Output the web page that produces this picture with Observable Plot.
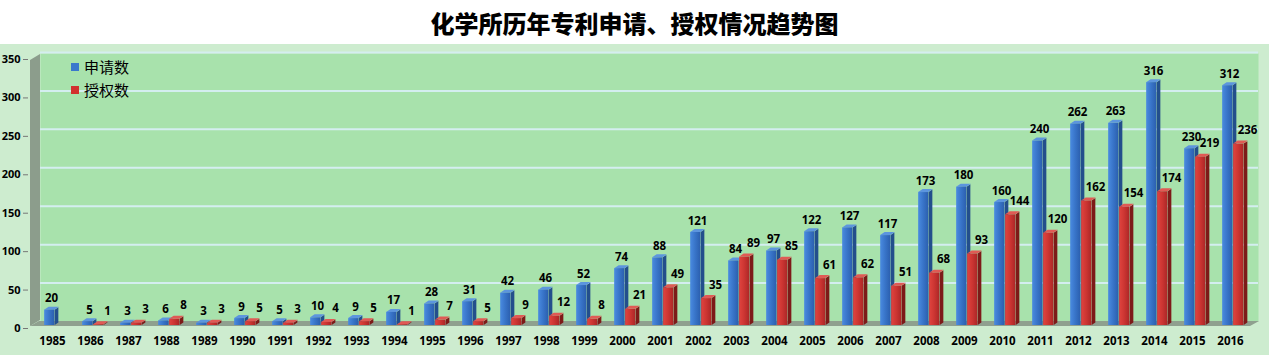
<!DOCTYPE html>
<html>
<head>
<meta charset="utf-8">
<script src="https://cdn.jsdelivr.net/npm/d3@7"></script>
<script src="https://cdn.jsdelivr.net/npm/@observablehq/plot@0.6"></script>
<style>
  html, body { margin: 0; padding: 0; background: #ffffff; }
  #wrap { width: 1269px; height: 355px; position: relative; overflow: hidden; }
  #title { height: 44px; line-height: 46px; text-align: center; font-family: "Noto Sans CJK SC", sans-serif; font-weight: 900; font-size: 24px; color: #000; background: #ffffff; }
  #chart { position: relative; height: 311px; background: #cdeccf; }
  #legend { position: absolute; left: 71px; top: 11px; font-family: "Noto Sans CJK SC", sans-serif; font-size: 15px; color: #000; line-height: 23px; }
  #legend .sw { display: inline-block; width: 8px; height: 8px; margin-right: 5px; vertical-align: 2px; }
</style>
</head>
<body>
<div id="wrap">
  <div id="title">化学所历年专利申请、授权情况趋势图</div>
  <div id="chart"></div>
</div>
<script>
// ---- data ----
const years = [1985,1986,1987,1988,1989,1990,1991,1992,1993,1994,1995,1996,1997,1998,1999,2000,2001,2002,2003,2004,2005,2006,2007,2008,2009,2010,2011,2012,2013,2014,2015,2016];
const applications = [20,5,3,6,3,9,5,10,9,17,28,31,42,46,52,74,88,121,84,97,122,127,117,173,180,160,240,262,263,316,230,312];
const grants = [null,1,3,8,3,5,3,4,5,1,7,5,9,12,8,21,49,35,89,85,61,62,51,68,93,144,120,162,154,174,219,236];
const yTicks = [0,50,100,150,200,250,300,350];
const seriesNames = ["申请数","授权数"];

const appData = years.map((y, i) => ({year: String(y), value: applications[i]})).filter(d => d.value != null);
const grantData = years.map((y, i) => ({year: String(y), value: grants[i]})).filter(d => d.value != null);

function styled(tf, origin) {
  return (index, scales, values, dims, ctx, next) => {
    const g = next(index, scales, values, dims, ctx);
    const els = g.tagName && g.tagName.toLowerCase() === "rect" ? [g] : g.querySelectorAll("rect");
    for (const el of els) {
      el.style.transformBox = "fill-box";
      el.style.transformOrigin = origin || "left bottom";
      el.style.transform = tf;
    }
    return g;
  };
}

const W = 1269, H = 311, ML = 28, MR = 11, MT = 8, MB = 34;
const band = (1254 - 28) / years.length;
const half = band / 2;

function bar3d(data, colors, off) {
  const [fl, fr] = off;
  const depth = 4;
  return [
    Plot.barY(data, {x: "year", y: "value", fill: colors.side, dy: 4,
      insetLeft: half + fr, insetRight: half - fr - depth,
      render: styled("skewY(-34deg)", "left bottom")}),
    Plot.barY(data, {x: "year", y1: "value", y2: "value", fill: colors.top, dy: 4,
      insetLeft: half + fl, insetRight: half - fr, insetTop: -3,
      render: styled("skewX(-56deg)", "left bottom")}),
    Plot.barY(data, {x: "year", y: "value", fill: colors.front, dy: 4,
      insetLeft: half + fl, insetRight: half - fr})
  ];
}

const chart = Plot.plot({
  width: W, height: H,
  marginLeft: ML, marginRight: MR, marginTop: MT, marginBottom: MB,
  style: {background: "transparent", fontFamily: "'Open Sans', sans-serif", fontWeight: "bold", fontSize: "11px", color: "#000"},
  x: {type: "band", domain: years.map(String), range: [28, 1254], padding: 0, label: null},
  y: {domain: [0, 350], range: [H - MB, MT], label: null},
  marks: [
    Plot.frame({fill: "#a8e2ac", insetLeft: 12, insetTop: 1}),
    Plot.ruleY(yTicks.slice(1), {y: d => d, stroke: "#d4eef0", strokeWidth: 2, insetLeft: 12}),
    Plot.frame({fill: "#8c9d8c", insetLeft: 2, insetRight: (W - MR - ML) - 12, insetTop: 8, insetBottom: -5,
      render: styled("skewY(-31deg)", "left top")}),
    Plot.frame({fill: "#8fa08f", insetLeft: 2, insetRight: 8, insetTop: (H - MB - MT), insetBottom: -5,
      render: styled("skewX(-61deg)", "left bottom")}),
    ...bar3d(appData, {front: "url(#gBlue)", side: "#234f8c", top: "#5c95de"}, [-8, 2.5]),
    ...bar3d(grantData, {front: "url(#gRed)", side: "#7d1a18", top: "#e05a55"}, [3, 13.5]),
    Plot.text(appData, {x: "year", y: "value", text: d => String(d.value), dx: -1, dy: -4, lineAnchor: "bottom", fontWeight: "bold", fontSize: 11.5, fill: "#000"}),
    Plot.text(grantData, {x: "year", y: "value", text: d => String(d.value), dx: 17, dy: -6, lineAnchor: "bottom", fontWeight: "bold", fontSize: 11.5, fill: "#000"}),
    Plot.axisY({ticks: yTicks, tickSize: 5, tickPadding: 3, dy: 7, tickFormat: d => String(d), fontWeight: "bold", fontSize: 11, stroke: "#777", label: null}),
    Plot.axisX({tickSize: 0, tickPadding: 15, fontWeight: "bold", fontSize: 11.5, label: null})
  ]
});

const ns = "http://www.w3.org/2000/svg";
const defs = document.createElementNS(ns, "defs");
defs.innerHTML = `
<linearGradient id="gBlue" x1="0" x2="1" y1="0" y2="0">
  <stop offset="0" stop-color="#4a8be0"/><stop offset="0.5" stop-color="#3874c8"/><stop offset="1" stop-color="#2b5fae"/>
</linearGradient>
<linearGradient id="gRed" x1="0" x2="1" y1="0" y2="0">
  <stop offset="0" stop-color="#e0443f"/><stop offset="0.5" stop-color="#cc3532"/><stop offset="1" stop-color="#ab2727"/>
</linearGradient>`;
chart.insertBefore(defs, chart.firstChild);
document.getElementById("chart").appendChild(chart);

const legendColors = ["#3a78cc", "#d2302e"];
const legend = document.createElement("div");
legend.id = "legend";
legend.innerHTML = seriesNames.map((n, i) => `<div><span class="sw" style="background:${legendColors[i]}"></span>${n}</div>`).join("");
document.getElementById("chart").appendChild(legend);
</script>
</body>
</html>
